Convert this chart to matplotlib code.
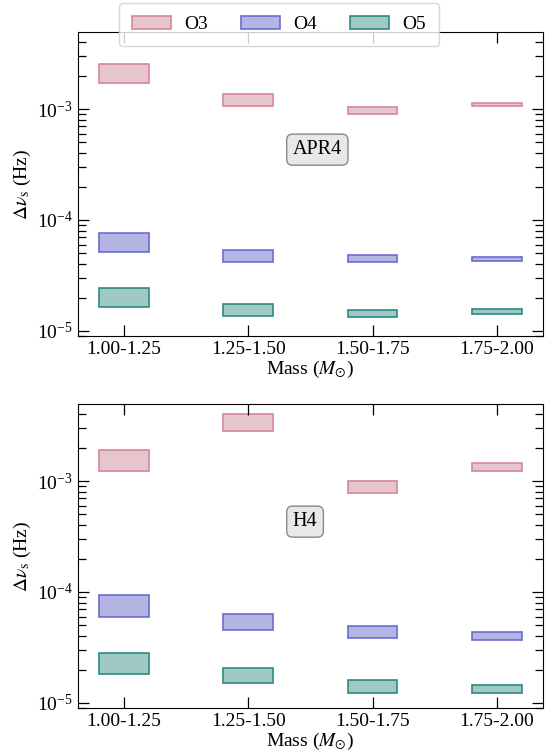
import matplotlib
matplotlib.use("Agg")
import matplotlib.pyplot as plt
import numpy as np

plt.rcParams['font.family'] = ['Liberation Serif', 'DejaVu Serif']
plt.rcParams['mathtext.fontset'] = 'stix'
plt.rcParams['font.size'] = 14

# mass bins (x categories)
mass_bins = ['1.00-1.25', '1.25-1.50', '1.50-1.75', '1.75-2.00']
runs = ['O3', 'O4', 'O5']

# APR4: lower / upper edge of each box (Hz)
apr4_lo = {'O3': [1.71e-3, 1.06e-3, 0.90e-3, 1.057e-3],
           'O4': [5.17e-5, 4.19e-5, 4.19e-5, 4.29e-5],
           'O5': [1.64e-5, 1.36e-5, 1.34e-5, 1.43e-5]}
apr4_hi = {'O3': [2.54e-3, 1.36e-3, 1.035e-3, 1.14e-3],
           'O4': [7.69e-5, 5.40e-5, 4.81e-5, 4.67e-5],
           'O5': [2.45e-5, 1.76e-5, 1.53e-5, 1.56e-5]}

# H4
h4_lo = {'O3': [1.22e-3, 2.84e-3, 0.774e-3, 1.24e-3],
         'O4': [5.98e-5, 4.57e-5, 3.83e-5, 3.67e-5],
         'O5': [1.82e-5, 1.50e-5, 1.24e-5, 1.22e-5]}
h4_hi = {'O3': [1.89e-3, 3.99e-3, 1.00e-3, 1.46e-3],
         'O4': [9.4e-5, 6.38e-5, 4.97e-5, 4.36e-5],
         'O5': [2.84e-5, 2.08e-5, 1.61e-5, 1.44e-5]}

face = {'O3': '#e7c5cd', 'O4': '#b5b5e3', 'O5': '#9ec9c5'}
edge = {'O3': '#d4879a', 'O4': '#6b6bd0', 'O5': '#2e8a83'}

fig = plt.figure(figsize=(5.45, 7.53), dpi=100)
ax_top = fig.add_axes([0.143, 0.5538, 0.853, 0.4037])
ax_bot = fig.add_axes([0.143, 0.0598, 0.853, 0.4037])

x = np.arange(len(mass_bins))

for ax, lo, hi, name in [(ax_top, apr4_lo, apr4_hi, 'APR4'),
                         (ax_bot, h4_lo, h4_hi, 'H4')]:
    for run in runs:
        l = np.array(lo[run])
        h = np.array(hi[run])
        ax.bar(x, h - l, bottom=l, width=0.4, color=face[run],
               edgecolor=edge[run], linewidth=1.2, label=run)
    ax.set_yscale('log')
    ax.set_ylim(9.0e-6, 4.95e-3)
    ax.set_xlim(-0.37, 3.37)
    ax.set_xticks(x)
    ax.set_xticklabels(mass_bins)
    ax.tick_params(which='both', direction='in', top=True, right=True)
    ax.tick_params(which='major', length=8, width=0.9)
    ax.tick_params(which='minor', length=5.5, width=0.9)
    ax.tick_params(axis='x', which='minor', top=False, bottom=False)
    ax.set_ylabel(r'$\Delta\nu_{\rm s}$ (Hz)', labelpad=3)
    ax.set_xlabel(r'Mass ($M_{\odot}$)', labelpad=1)
    ax.text(0.462, 0.613, name, transform=ax.transAxes, ha='left', va='center',
            fontsize=14.5,
            bbox=dict(boxstyle='round,pad=0.3', facecolor='#e8e8e8',
                      edgecolor='#888888'))

handles, labels = ax_top.get_legend_handles_labels()
fig.legend(handles, labels, loc='upper center', ncol=3,
           bbox_to_anchor=(279 / 545, 1 - 3 / 753), borderaxespad=0,
           borderpad=0.65, handlelength=2.0, handletextpad=0.7,
           columnspacing=1.7, fontsize=14)

fig.savefig('out.png', dpi=100)
